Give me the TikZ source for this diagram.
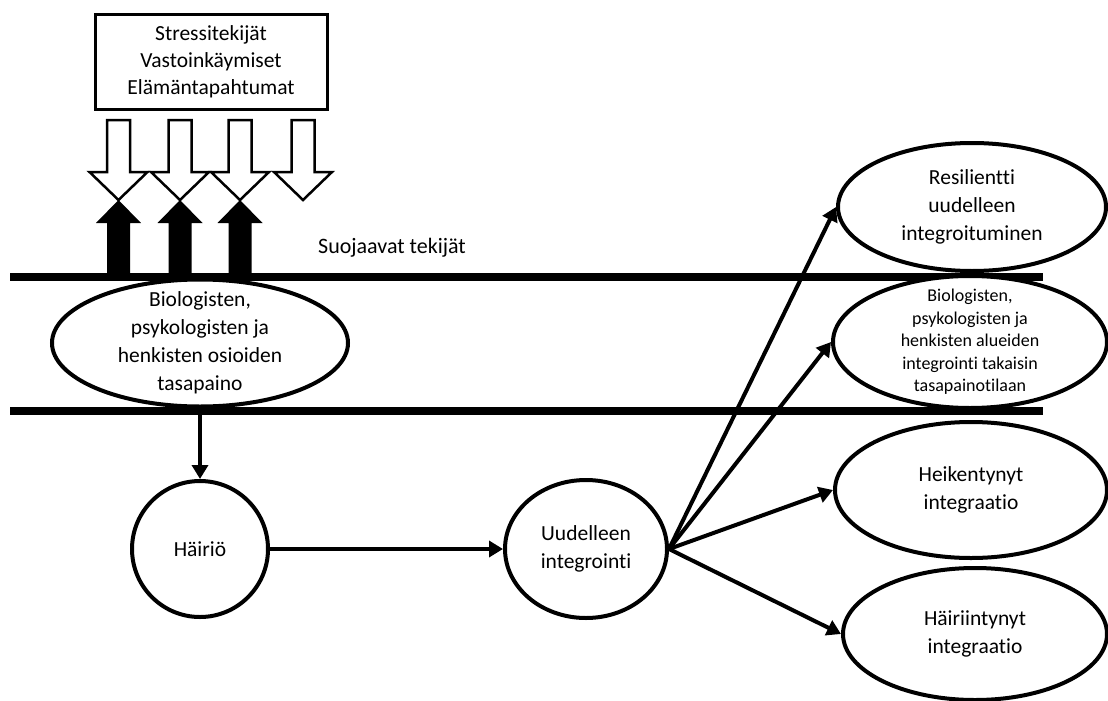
\documentclass[tikz,border=0pt]{standalone}
\usepackage{fontspec}
\setmainfont{Carlito}[Ligatures=NoCommon]
\usetikzlibrary{positioning,arrows.meta,shapes.geometric}

\begin{document}
\begin{tikzpicture}[x=1pt,y=-1pt,
  oval/.style={draw,ellipse,line width=4pt,fill=white,inner xsep=0pt,
    inner ysep=-14pt,align=center,font=\fontsize{21.5}{28}\selectfont},
  smalloval/.style={oval,font=\fontsize{18}{22.5}\selectfont},
  link/.style={line width=4pt,-{Triangle[length=14pt,width=16pt]}},
  band/.style={line width=8pt}]
\useasboundingbox (0,0) rectangle (1108,701);

% the two lines of the protective band
\draw[band] (10,277) -- (1043,277);
\draw[band] (10,411) -- (1043,411);

\node[draw,line width=3pt,minimum width=232pt,minimum height=95pt,
      align=center,font=\fontsize{21.5}{27}\selectfont]
      (stress) at (211,62) {Stressitekijät\\Vastoinkäymiset\\Elämäntapahtumat};

% stressors coming down
\foreach \x in {118.5,180,240,303}{
  \draw[line width=2.5pt,fill=white,line join=miter]
    ({\x-11.5},120) -- ({\x+11.5},120) -- ({\x+11.5},172) -- ({\x+29},172)
    -- (\x,200) -- ({\x-29},172) -- ({\x-11.5},172) -- cycle;
}
% protective factors pushing up
\foreach \x in {118.5,180,240}{
  \fill ({\x-11.5},277) -- ({\x+11.5},277) -- ({\x+11.5},223) -- ({\x+22.5},223)
    -- (\x,200) -- ({\x-22.5},223) -- ({\x-11.5},223) -- cycle;
}
\node[anchor=west,inner sep=0pt,font=\fontsize{22}{26}\selectfont] (suoja) at (318,248) {Suojaavat tekijät};

\node[oval,minimum width=296pt,minimum height=127pt] (balance) at (200,343)
  {Biologisten,\\psykologisten ja\\henkisten osioiden\\tasapaino};
\node[oval,minimum width=136pt,minimum height=136pt] (hairio) at (200,549) {Häiriö};
\node[oval,minimum width=162pt,minimum height=138pt] (reint) at (586,549)
  {Uudelleen\\integrointi};

\node[oval,minimum width=268pt,minimum height=128pt] (resil) at (972,207)
  {Resilientti\\uudelleen\\integroituminen};
\node[smalloval,minimum width=274pt,minimum height=132pt] (back) at (970,342)
  {Biologisten,\\psykologisten ja\\henkisten alueiden\\integrointi takaisin\\tasapainotilaan};
\node[oval,minimum width=272pt,minimum height=136pt] (weak) at (971,490)
  {Heikentynyt\\integraatio};
\node[oval,minimum width=264pt,minimum height=132pt] (disturb) at (975,634)
  {Häiriintynyt\\integraatio};

\draw[link] (balance.south) -- (hairio.north);
\draw[link] (hairio.east) -- (reint.west);
\foreach \t in {resil,back,weak,disturb}
  \draw[link] (reint.east) -- (\t.west);

\end{tikzpicture}
\end{document}
